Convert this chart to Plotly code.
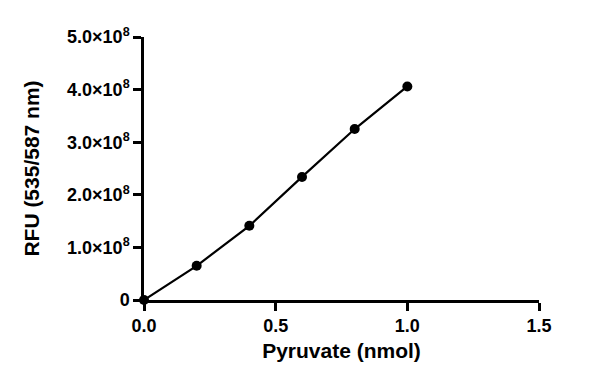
import plotly.graph_objects as go

pyruvate = [0.0, 0.2, 0.4, 0.6, 0.8, 1.0]
rfu = [0.0, 0.65e8, 1.41e8, 2.34e8, 3.25e8, 4.06e8]

y_tickvals = [0, 1e8, 2e8, 3e8, 4e8, 5e8]
y_ticktext = ["0", "1.0×10<sup>8</sup>", "2.0×10<sup>8</sup>", "3.0×10<sup>8</sup>",
              "4.0×10<sup>8</sup>", "5.0×10<sup>8</sup>"]
x_tickvals = [0.0, 0.5, 1.0, 1.5]
x_ticktext = ["0.0", "0.5", "1.0", "1.5"]

font_family = "Liberation Sans, Arial, sans-serif"

fig = go.Figure()
fig.add_trace(go.Scatter(
    x=pyruvate, y=rfu, mode="lines+markers",
    line=dict(color="black", width=2.2),
    marker=dict(color="black", size=10),
    cliponaxis=False, showlegend=False,
))

fig.update_layout(
    width=600, height=382,
    margin=dict(l=144, r=61, t=37, b=82),
    paper_bgcolor="white", plot_bgcolor="white",
    font=dict(family=font_family, color="black"),
    xaxis=dict(
        range=[0, 1.5], tickvals=x_tickvals, ticktext=x_ticktext,
        showline=True, linecolor="black", linewidth=2.5,
        ticks="outside", ticklen=8, tickwidth=2.5, tickcolor="black",
        showgrid=False, zeroline=False,
        tickfont=dict(size=18, family=font_family, weight="bold"),
        title=dict(text="<b>Pyruvate (nmol)</b>", font=dict(size=21), standoff=8),
    ),
    yaxis=dict(
        range=[0, 5e8], tickvals=y_tickvals, ticktext=y_ticktext,
        showline=True, linecolor="black", linewidth=2.5,
        ticks="outside", ticklen=8, tickwidth=2.5, tickcolor="black",
        showgrid=False, zeroline=False,
        tickfont=dict(size=18, family=font_family, weight="bold"),
        title=dict(text="<b>RFU (535/587 nm)</b>", font=dict(size=21), standoff=22),
    ),
)

fig.write_html("out.html", config={"displayModeBar": False},
               post_script="document.body.style.margin='0';")
